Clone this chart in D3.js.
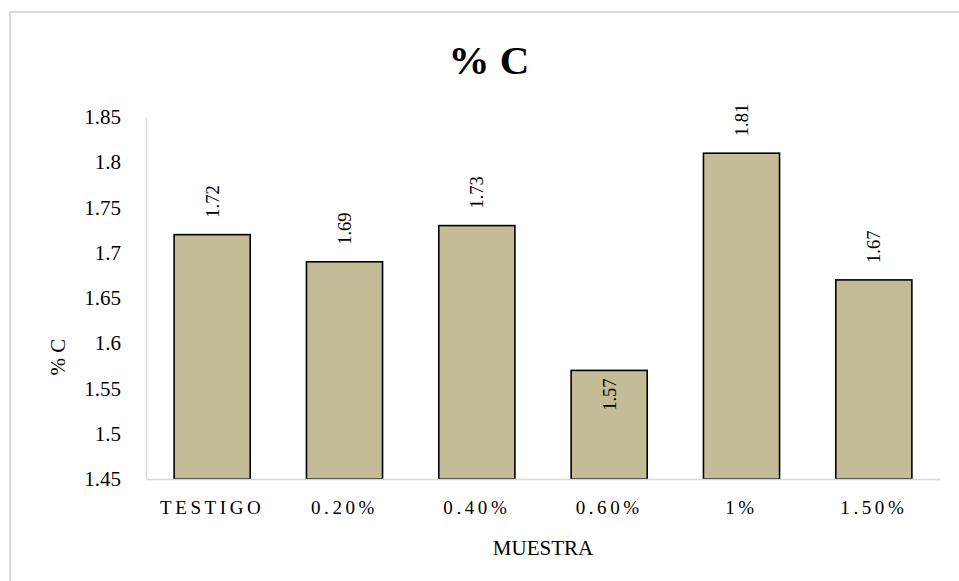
<!DOCTYPE html>
<html>
<head>
<meta charset="utf-8">
<script src="https://cdn.jsdelivr.net/npm/d3@7"></script>
<style>
  html, body { margin: 0; padding: 0; background: #fff; }
  svg { display: block; font-family: "Liberation Serif", "DejaVu Serif", serif; }
</style>
</head>
<body>
<svg id="chart" width="959" height="581"></svg>
<script>
// Carbon content per sample
const categories = ["TESTIGO", "0.20%", "0.40%", "0.60%", "1%", "1.50%"];
const values = [1.72, 1.69, 1.73, 1.57, 1.81, 1.67];
const yTicks = [1.45, 1.5, 1.55, 1.6, 1.65, 1.7, 1.75, 1.8, 1.85];
const yTickLabels = ["1.45", "1.5", "1.55", "1.6", "1.65", "1.7", "1.75", "1.8", "1.85"];

const serif = "Liberation Serif, serif";
const svg = d3.select("#chart");

// chart frame
svg.append("rect")
  .attr("x", 10).attr("y", 12)
  .attr("width", 970).attr("height", 600)
  .attr("fill", "#fff")
  .attr("stroke", "#d9d9d9").attr("stroke-width", 2);

const plot = { left: 146, right: 940, top: 117, bottom: 479 };

const x = d3.scaleBand()
  .domain(categories)
  .range([plot.left, plot.right])
  .paddingInner(0.425)
  .paddingOuter(0.2125);

const y = d3.scaleLinear()
  .domain([1.45, 1.85])
  .range([plot.bottom, plot.top]);

// title
svg.append("text")
  .attr("x", 489).attr("y", 74)
  .attr("text-anchor", "middle")
  .attr("font-family", serif)
  .attr("font-size", 41).attr("font-weight", "bold")
  .attr("fill", "#000")
  .text("% C");

// y axis
const yAxis = d3.axisLeft(y)
  .tickValues(yTicks)
  .tickFormat((d, i) => yTickLabels[i])
  .tickSize(0)
  .tickPadding(25);

const gy = svg.append("g")
  .attr("transform", `translate(${plot.left},0)`)
  .call(yAxis);
gy.select(".domain").attr("stroke", "#d9d9d9").attr("stroke-width", 1.5);
gy.selectAll("text")
  .attr("font-size", 21)
  .attr("font-family", serif)
  .attr("fill", "#000");

// bars
svg.append("g").selectAll("rect")
  .data(values)
  .join("rect")
  .attr("x", (d, i) => x(categories[i]))
  .attr("y", d => y(d))
  .attr("width", x.bandwidth())
  .attr("height", d => y(1.45) - y(d))
  .attr("fill", "#c4bc96")
  .attr("stroke", "#000")
  .attr("stroke-width", 1.6);

// x axis baseline
const xAxis = d3.axisBottom(x).tickSize(0).tickPadding(22);
const gx = svg.append("g")
  .attr("transform", `translate(0,${plot.bottom})`)
  .call(xAxis);
gx.select(".domain").attr("stroke", "#d9d9d9").attr("stroke-width", 1.5);
gx.selectAll("text")
  .attr("font-size", 19)
  .attr("font-family", serif)
  .attr("letter-spacing", "3.6px")
  .attr("fill", "#000");

// value labels (rotated); the lowest bar carries its label inside the top
svg.append("g").selectAll("text")
  .data(values)
  .join("text")
  .attr("transform", (d, i) => {
    const cx = x(categories[i]) + x.bandwidth() / 2;
    const inside = d < 1.6;
    const yy = inside ? y(d) + 8 : y(d) - 17;
    return `translate(${cx + 6.5},${yy}) rotate(-90)`;
  })
  .attr("text-anchor", (d) => d < 1.6 ? "end" : "start")
  .attr("font-family", serif)
  .attr("font-size", 18.5)
  .attr("fill", "#000")
  .text(d => d.toString());

// axis titles
svg.append("text")
  .attr("transform", `translate(65,357) rotate(-90)`)
  .attr("text-anchor", "middle")
  .attr("font-family", serif)
  .attr("font-size", 21)
  .attr("fill", "#000")
  .text("% C");

svg.append("text")
  .attr("x", 543).attr("y", 555)
  .attr("text-anchor", "middle")
  .attr("font-family", serif)
  .attr("font-size", 21)
  .attr("fill", "#000")
  .text("MUESTRA");
</script>
</body>
</html>
